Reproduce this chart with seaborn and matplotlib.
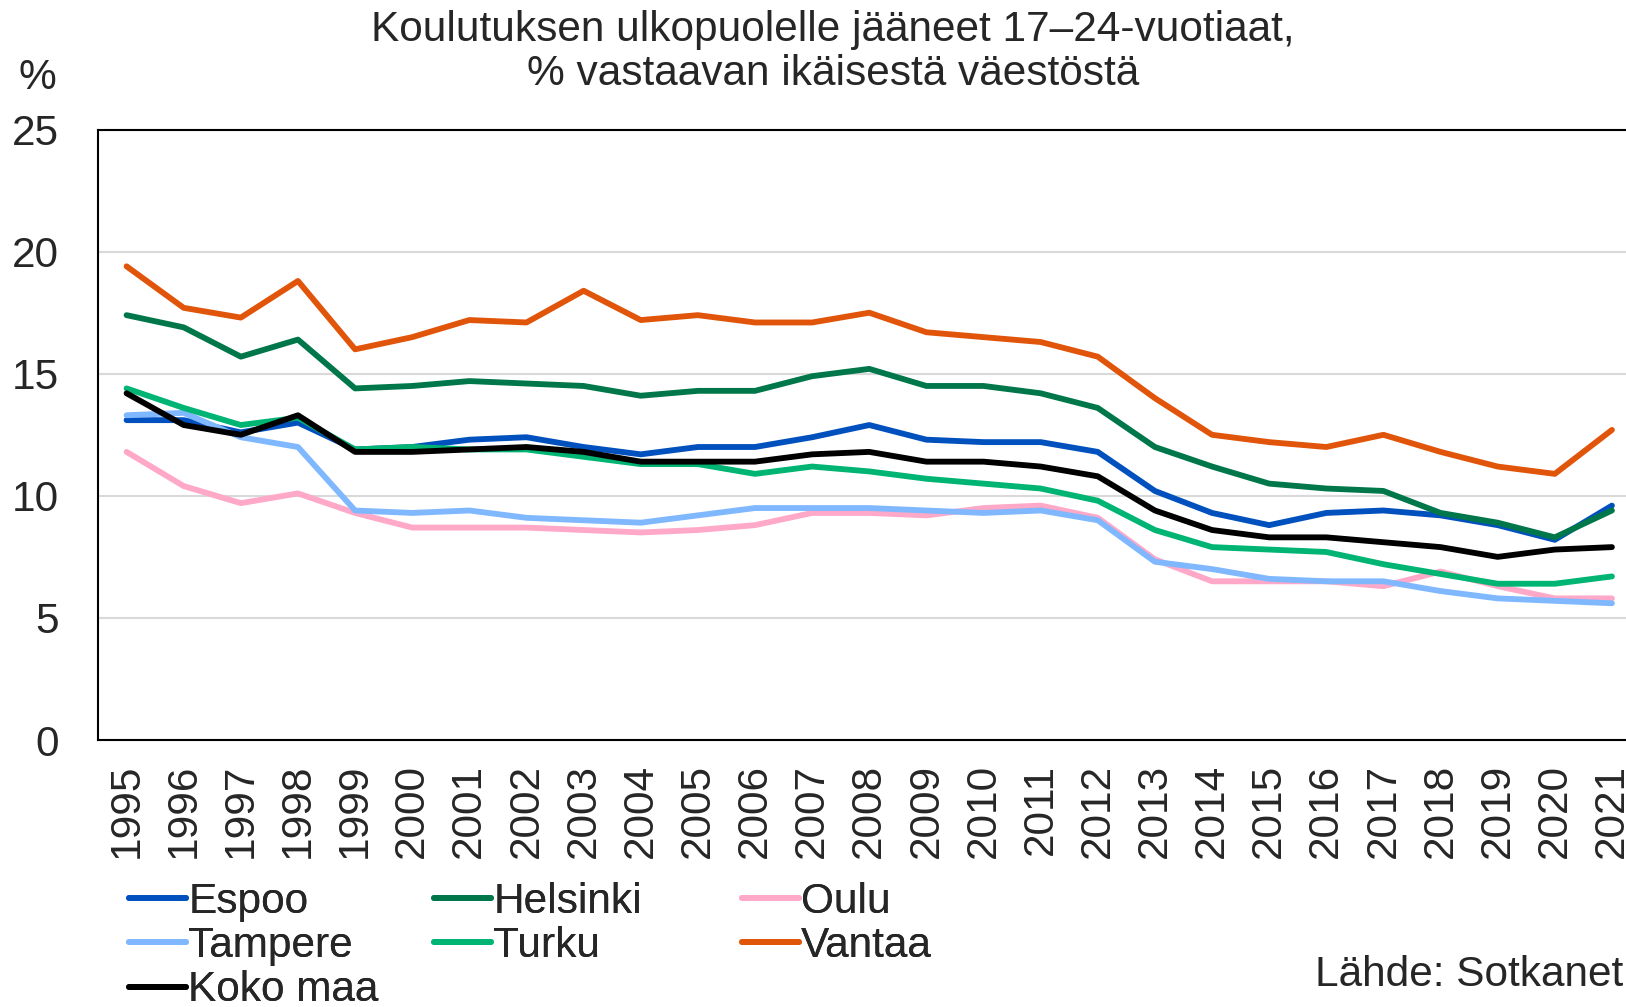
import matplotlib
matplotlib.use("Agg")
import matplotlib.pyplot as plt
import seaborn as sns
import pandas as pd

years = list(range(1995, 2022))
series_names = ["Espoo", "Helsinki", "Oulu", "Tampere", "Turku", "Vantaa", "Koko maa"]

espoo = [13.1, 13.1, 12.6, 13.0, 11.9, 12.0, 12.3, 12.4, 12.0, 11.7, 12.0, 12.0, 12.4, 12.9,
         12.3, 12.2, 12.2, 11.8, 10.2, 9.3, 8.8, 9.3, 9.4, 9.2, 8.8, 8.2, 9.6]
helsinki = [17.4, 16.9, 15.7, 16.4, 14.4, 14.5, 14.7, 14.6, 14.5, 14.1, 14.3, 14.3, 14.9, 15.2,
            14.5, 14.5, 14.2, 13.6, 12.0, 11.2, 10.5, 10.3, 10.2, 9.3, 8.9, 8.3, 9.4]
oulu = [11.8, 10.4, 9.7, 10.1, 9.3, 8.7, 8.7, 8.7, 8.6, 8.5, 8.6, 8.8, 9.3, 9.3,
        9.2, 9.5, 9.6, 9.1, 7.4, 6.5, 6.5, 6.5, 6.3, 6.9, 6.3, 5.8, 5.8]
tampere = [13.3, 13.4, 12.4, 12.0, 9.4, 9.3, 9.4, 9.1, 9.0, 8.9, 9.2, 9.5, 9.5, 9.5,
           9.4, 9.3, 9.4, 9.0, 7.3, 7.0, 6.6, 6.5, 6.5, 6.1, 5.8, 5.7, 5.6]
turku = [14.4, 13.6, 12.9, 13.2, 11.9, 12.0, 11.9, 11.9, 11.6, 11.3, 11.3, 10.9, 11.2, 11.0,
         10.7, 10.5, 10.3, 9.8, 8.6, 7.9, 7.8, 7.7, 7.2, 6.8, 6.4, 6.4, 6.7]
vantaa = [19.4, 17.7, 17.3, 18.8, 16.0, 16.5, 17.2, 17.1, 18.4, 17.2, 17.4, 17.1, 17.1, 17.5,
          16.7, 16.5, 16.3, 15.7, 14.0, 12.5, 12.2, 12.0, 12.5, 11.8, 11.2, 10.9, 12.7]
koko_maa = [14.2, 12.9, 12.5, 13.3, 11.8, 11.8, 11.9, 12.0, 11.8, 11.4, 11.4, 11.4, 11.7, 11.8,
            11.4, 11.4, 11.2, 10.8, 9.4, 8.6, 8.3, 8.3, 8.1, 7.9, 7.5, 7.8, 7.9]

colors = ["#0050BE", "#00774A", "#FFA8C8", "#80B8FF", "#00B474", "#E0550A", "#000000"]

values = [espoo, helsinki, oulu, tampere, turku, vantaa, koko_maa]
rows = []
for name, vals in zip(series_names, values):
    for i, (yr, v) in enumerate(zip(years, vals)):
        rows.append({"idx": i, "year": yr, "value": v, "series": name})
df = pd.DataFrame(rows)

sns.set_theme(style="white")
plt.rcParams["font.family"] = ["Liberation Sans", "DejaVu Sans"]

FS = 30.5
LW = 4.2

fig = plt.figure(figsize=(16.26, 10.07), dpi=100)
ax = fig.add_axes([98 / 1626, 267 / 1007, 1542.5 / 1626, 610.4 / 1007])

sns.lineplot(data=df, x="idx", y="value", hue="series", hue_order=series_names,
             palette=dict(zip(series_names, colors)), linewidth=LW, ax=ax, legend=True)

ax.set_xlim(-0.5, len(years) - 0.5)
ax.set_ylim(0, 25)
ax.set_yticks([0, 5, 10, 15, 20, 25])
ax.set_xticks(range(len(years)))
ax.set_xticklabels([str(y) for y in years], rotation=90)
ax.tick_params(axis="y", labelsize=FS, length=0, pad=28)
ax.tick_params(axis="x", labelsize=FS, length=0, pad=17)
ax.grid(axis="y", color="#d9d9d9", linewidth=1.5)
ax.set_axisbelow(True)
for s in ["left", "bottom", "top", "right"]:
    ax.spines[s].set_color("black")
    ax.spines[s].set_linewidth(1.5)
ax.set_xlabel("")
ax.set_ylabel("")

handles, labels = ax.get_legend_handles_labels()
ax.get_legend().remove()
hmap = dict(zip(labels, handles))
legend_cols = [["Espoo", "Tampere", "Koko maa"], ["Helsinki", "Turku"], ["Oulu", "Vantaa"]]
col_x = [129, 434, 742]
for names, x in zip(legend_cols, col_x):
    leg = fig.legend([hmap[n] for n in names], names, ncol=1, loc="upper left",
                     bbox_to_anchor=(x / 1626, 1 - 882 / 1007), frameon=False,
                     fontsize=FS, handlelength=1.35, handletextpad=0.05,
                     labelspacing=0.1, borderaxespad=0, borderpad=0)
    for h in leg.get_lines():
        h.set_linewidth(LW)
    fig.add_artist(leg)

fig.text(833 / 1626, 1 - 52 / 1007,
         "Koulutuksen ulkopuolelle jääneet 17–24-vuotiaat,\n% vastaavan ikäisestä väestöstä",
         ha="center", va="center", fontsize=FS, linespacing=1.1)
fig.text(37 / 1626, 1 - 78 / 1007, "%", ha="center", va="center", fontsize=FS)
fig.text(1623 / 1626, 1 - 975 / 1007, "Lähde: Sotkanet", ha="right", va="center", fontsize=FS)

fig.savefig("out.png", dpi=100)
